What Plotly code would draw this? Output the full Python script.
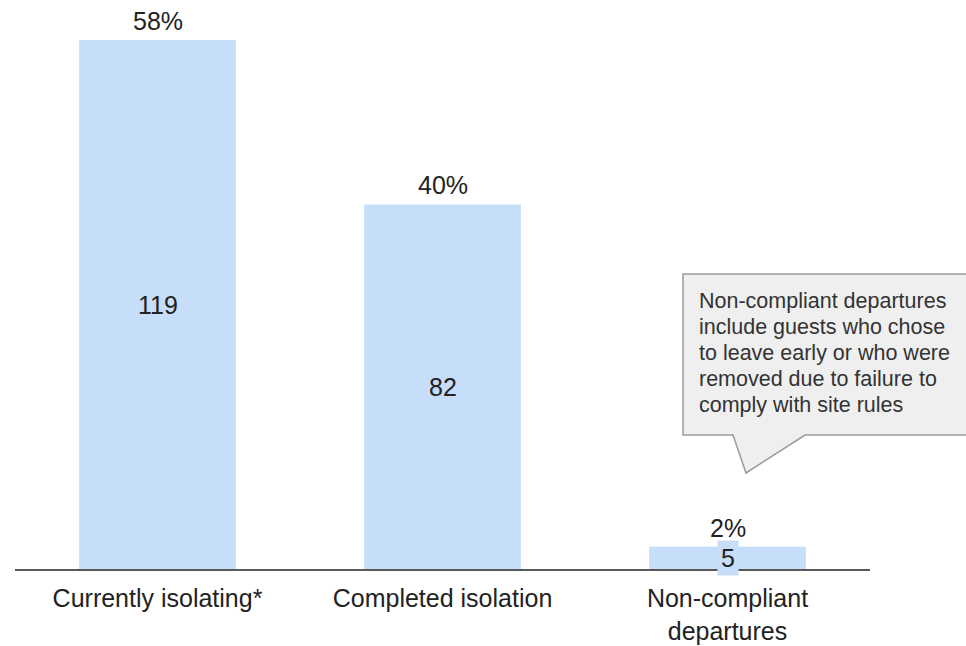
import plotly.graph_objects as go

categories = ["Currently isolating*", "Completed isolation", "Non-compliant<br>departures"]
counts = [119, 82, 5]
percent_labels = ["58%", "40%", "2%"]
callout_lines = [
    "Non-compliant departures",
    "include guests who chose",
    "to leave early or who were",
    "removed due to failure to",
    "comply with site rules",
]

W, H = 966, 646
ML, MR, MT, MB = 15, 96, 40, 77
PW = W - ML - MR
PH = H - MT - MB
BAR = "#c6defa"
FONT = "Liberation Sans, Arial, sans-serif"


def px(xp):
    return (xp - ML) / PW


def py(yp):
    return (H - MB - yp) / PH


fig = go.Figure()
fig.add_trace(go.Bar(
    x=categories, y=counts, width=0.55, marker=dict(color=BAR, line=dict(width=0)),
    hoverinfo="skip",
))

annotations = []
for c, v, p in zip(categories, counts, percent_labels):
    annotations.append(dict(x=c, y=v, xref="x", yref="y", text=p, showarrow=False,
                            yanchor="bottom", yshift=3,
                            font=dict(family=FONT, size=25, color="#222")))
    annotations.append(dict(x=c, y=v / 2, xref="x", yref="y", text=str(v), showarrow=False,
                            yanchor="middle", bgcolor=BAR, borderpad=3,
                            font=dict(family=FONT, size=25, color="#222")))

line_y = [301, 327, 353, 379, 405]
for t, yy in zip(callout_lines, line_y):
    annotations.append(dict(x=px(697), y=py(yy), xref="paper", yref="paper", text=t,
                            showarrow=False, xanchor="left", yanchor="middle", align="left",
                            font=dict(family=FONT, size=21.5, color="#333")))

pts = [(683, 274), (975, 274), (975, 435), (805, 435), (746, 473), (733, 435), (683, 435)]
path = "M " + " L ".join(f"{px(a):.5f},{py(b):.5f}" for a, b in pts) + " Z"

fig.update_layout(
    width=W, height=H,
    margin=dict(l=ML, r=MR, t=MT, b=MB, autoexpand=False),
    paper_bgcolor="white", plot_bgcolor="white",
    showlegend=False,
    bargap=0.45,
    xaxis=dict(range=[-0.5, 2.5], showline=True, linecolor="#595959", linewidth=2,
               showgrid=False, zeroline=False, ticks="", ticklabelstandoff=6,
               automargin=False,
               tickfont=dict(family=FONT, size=25, color="#222"), fixedrange=True),
    yaxis=dict(range=[0, 119], visible=False, fixedrange=True, automargin=False),
    annotations=annotations,
    shapes=[dict(type="path", path=path, xref="paper", yref="paper",
                 fillcolor="#efefef", line=dict(color="#9a9a9a", width=1.5), layer="above")],
)

fig.write_html("out.html")
